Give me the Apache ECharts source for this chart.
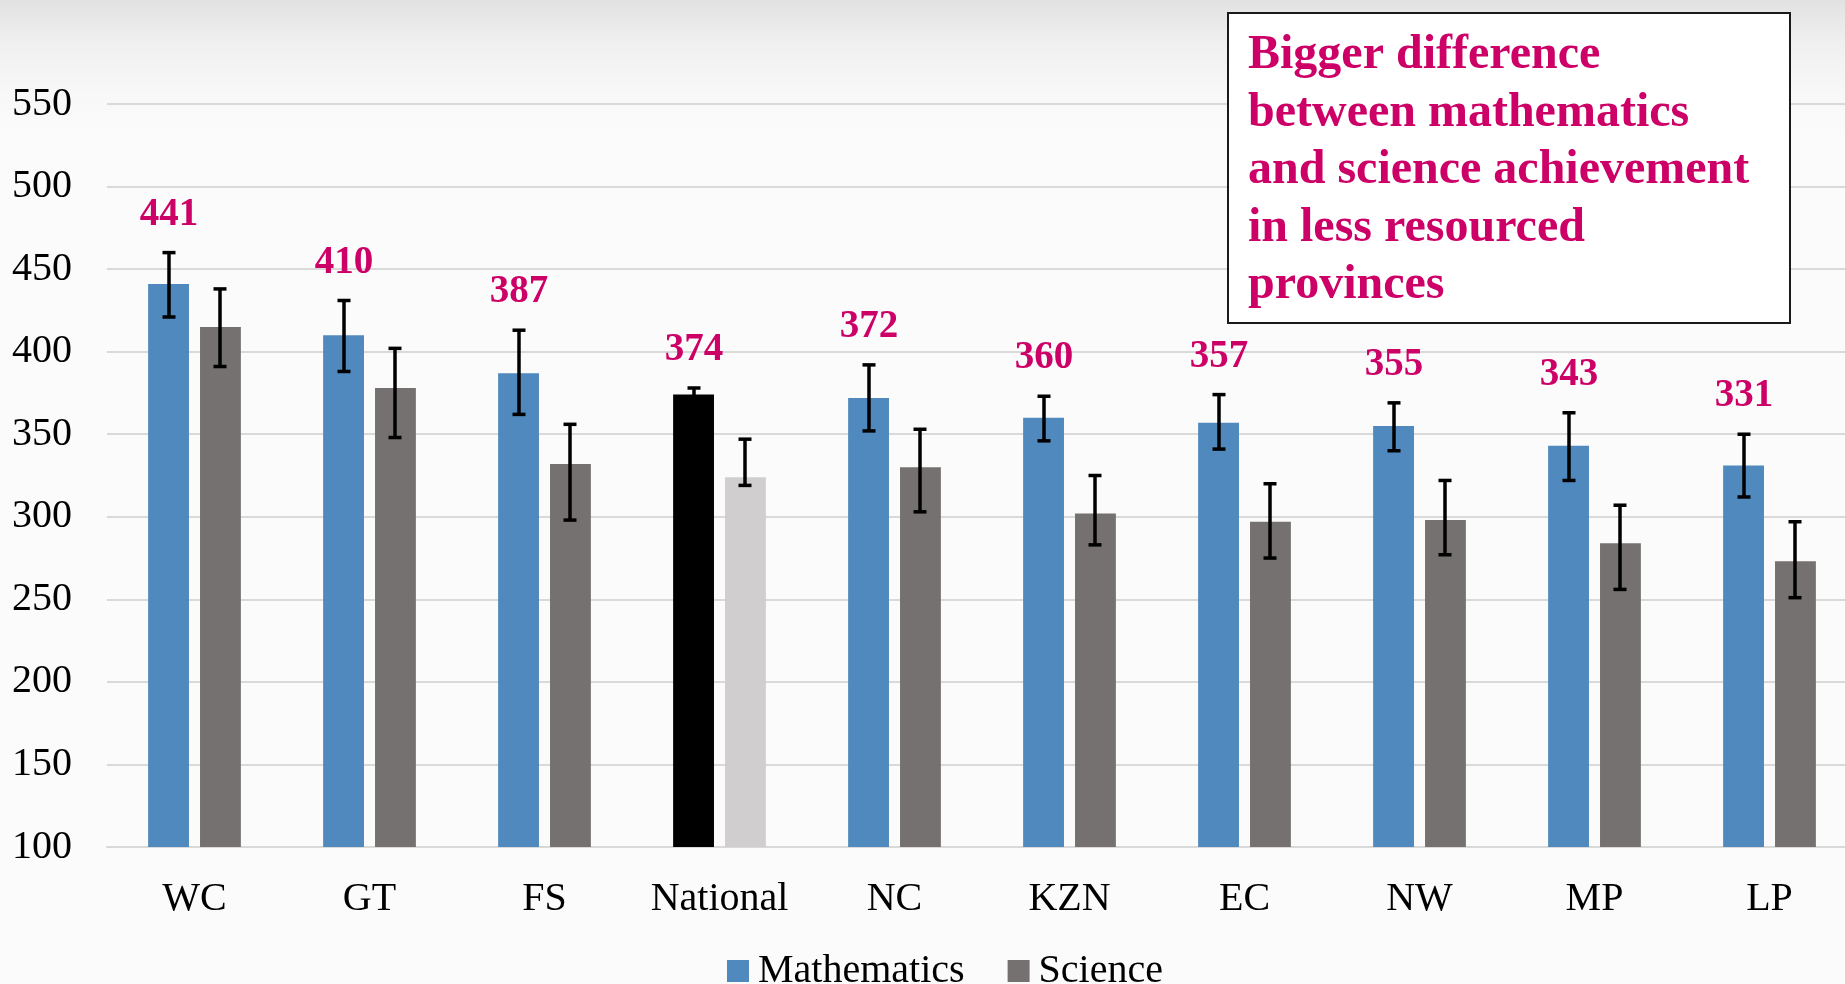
<!DOCTYPE html>
<html>
<head>
<meta charset="utf-8">
<script src="https://cdn.jsdelivr.net/npm/echarts/dist/echarts.min.js"></script>
<style>
  html, body { margin: 0; padding: 0; }
  /* light grey band fading out at the top of the slide */
  #main {
    width: 1845px;
    height: 984px;
    background: linear-gradient(to bottom, #e2e2e2 0px, #efefef 40px, #f8f8f8 95px, #fbfbfb 140px, #fbfbfb 100%);
  }
</style>
</head>
<body>
<div id="main"></div>
<script>
// provinces (National in the middle)
const categories = ['WC', 'GT', 'FS', 'National', 'NC', 'KZN', 'EC', 'NW', 'MP', 'LP'];
const mathScores = [441, 410, 387, 374, 372, 360, 357, 355, 343, 331];
const scienceScores = [415, 378, 332, 324, 330, 302, 297, 298, 284, 273];
// confidence intervals
const mathLow = [421, 388, 362, 370, 352, 346, 341, 340, 322, 312];
const mathHigh = [460, 431, 413, 378, 392, 373, 374, 369, 363, 350];
const scienceLow = [391, 348, 298, 319, 303, 283, 275, 277, 256, 251];
const scienceHigh = [438, 402, 356, 347, 353, 325, 320, 322, 307, 297];
const yMin = 100;
const yMax = 550;
const yStep = 50;

const BLUE = '#4F89BD';
const GREY = '#767171';
const PINK = '#CC0066';
const SERIF = '"Liberation Serif", "Times New Roman", serif';
const CAT_GAP = 0.47;
const BAR_GAP = 0.27;

const chart = echarts.init(document.getElementById('main'));

// National gets its own colours
const mathData = mathScores.map((v, i) => {
  return categories[i] === 'National' ? { value: v, itemStyle: { color: '#000000' } } : v;
});
const scienceData = scienceScores.map((v, i) => {
  return categories[i] === 'National' ? { value: v, itemStyle: { color: '#D0CECE' } } : v;
});

// error bar with caps; side -1 = left bar, +1 = right bar
function errorBar(side, withLabel) {
  return function (params, api) {
    const idx = api.value(0);
    const top = api.coord([idx, api.value(2)]);
    const bottom = api.coord([idx, api.value(1)]);
    const band = api.size([1, 0])[0];
    const barW = band * (1 - CAT_GAP) / (2 + BAR_GAP);
    const x = Math.round(top[0] + side * barW * (1 + BAR_GAP) / 2);
    const cap = 6.5;
    const lineStyle = { stroke: '#000', lineWidth: 3.5 };
    const children = [
      { type: 'line', shape: { x1: x, y1: top[1], x2: x, y2: bottom[1] }, style: lineStyle },
      { type: 'line', shape: { x1: x - cap, y1: top[1], x2: x + cap, y2: top[1] }, style: lineStyle },
      { type: 'line', shape: { x1: x - cap, y1: bottom[1], x2: x + cap, y2: bottom[1] }, style: lineStyle },
    ];
    if (withLabel) {
      children.push({
        type: 'text',
        style: {
          text: String(api.value(3)),
          x: x,
          y: top[1] - 38,
          align: 'center',
          verticalAlign: 'middle',
          fill: PINK,
          font: 'bold 39px ' + SERIF,
        },
      });
    }
    return { type: 'group', children: children };
  };
}

const option = {
  animation: false,
  grid: {
    left: 107,
    top: 104,
    width: 1750, // runs a little past the right edge, like the slide
    height: 743,
    outerBoundsMode: 'none',
  },
  legend: {
    data: ['Mathematics', 'Science'],
    left: 727,
    top: 951,
    padding: 0,
    itemWidth: 22,
    itemHeight: 22,
    itemGap: 43,
    icon: 'rect',
    textStyle: {
      fontFamily: SERIF,
      fontSize: 40,
      color: '#000',
      padding: [0, 0, 0, 4],
    },
  },
  xAxis: {
    type: 'category',
    data: categories,
    axisLine: { lineStyle: { color: '#d9d9d9', width: 2 } },
    axisTick: { show: false },
    axisLabel: {
      interval: 0,
      fontFamily: SERIF,
      fontSize: 40,
      color: '#000',
      margin: 32,
    },
  },
  yAxis: {
    type: 'value',
    min: yMin,
    max: yMax,
    interval: yStep,
    axisLine: { show: false },
    axisTick: { show: false },
    splitLine: { lineStyle: { color: '#d9d9d9', width: 2 } },
    axisLabel: {
      fontFamily: SERIF,
      fontSize: 40,
      color: '#000',
      margin: 35,
    },
  },
  graphic: [
    {
      type: 'group',
      left: 1227,
      top: 12,
      z: 100,
      children: [
        {
          type: 'rect',
          z: 100,
          shape: { x: 0, y: 0, width: 562, height: 310 },
          style: { fill: '#ffffff', stroke: '#1a1a1a', lineWidth: 2 },
        },
        {
          type: 'text',
          z: 101,
          x: 20,
          y: 14,
          style: {
            text: 'Bigger difference\nbetween mathematics\nand science achievement\nin less resourced\nprovinces',
            font: 'bold 48px ' + SERIF,
            lineHeight: 57.5,
            fill: PINK,
          },
        },
      ],
    },
  ],
  series: [
    {
      name: 'Mathematics',
      type: 'bar',
      data: mathData,
      barGap: BAR_GAP * 100 + '%',
      barCategoryGap: CAT_GAP * 100 + '%',
      itemStyle: { color: BLUE },
    },
    {
      name: 'Science',
      type: 'bar',
      data: scienceData,
      itemStyle: { color: GREY },
    },
    {
      type: 'custom',
      name: 'mathErr',
      z: 5,
      renderItem: errorBar(-1, true),
      data: categories.map((c, i) => [i, mathLow[i], mathHigh[i], mathScores[i]]),
    },
    {
      type: 'custom',
      name: 'scienceErr',
      z: 5,
      renderItem: errorBar(1, false),
      data: categories.map((c, i) => [i, scienceLow[i], scienceHigh[i]]),
    },
  ],
};

chart.setOption(option);
</script>
</body>
</html>
